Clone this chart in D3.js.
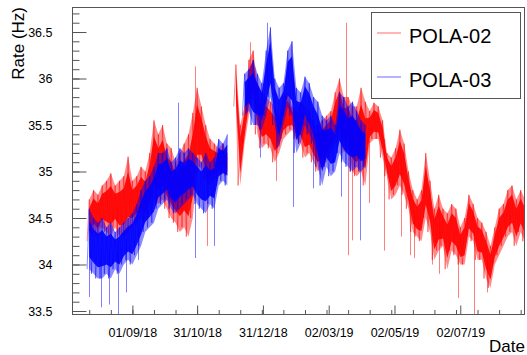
<!DOCTYPE html>
<html>
<head>
<meta charset="utf-8">
<script src="https://cdn.jsdelivr.net/npm/d3@7"></script>
<style>
  html, body { margin: 0; padding: 0; background: #fff; }
  svg { display: block; font-family: "Liberation Sans", Arial, Helvetica, sans-serif; }
</style>
</head>
<body>
<div id="chart"></div>
<script>
// one reading every 4 days from 21/07/18: low and high edge of the band in that window
var seriesStart = "2018-07-21";
var stepDays = 4;

var pola02Low = [34.25, 34.35, 34.3, 34.4, 34.35, 34.3, 34.4, 34.3, 34.3, 34.35,
  34.4, 34.45, 34.5, 34.45, 34.55, 34.7, 34.65, 34.7, 34.6, 34.5,
  34.45, 34.35, 34.4, 34.3, 34.5, 35.0, 35.05, 34.9, 34.85, 34.9,
  34.95, 35.0, 34.95, null, 35.7, 34.85, 35.3, 35.6, 35.8, 35.4,
  35.25, 35.3, 35.25, 35.1, 35.2, 35.35, 35.4, 35.45, 35.35, 35.3,
  35.15, 35.2, 35.1, 35.0, 35.05, 35.1, 35.2, 35.3, 35.35, 35.2,
  35.25, 35.0, 34.95, 35.0, 34.85, 35.3, 35.35, 35.35, 35.15, 34.95,
  34.7, 34.75, 34.85, 34.75, 34.6, 34.35, 34.3, 34.25, 34.5, 34.35,
  34.05, 34.15, 34.2, 33.95, 34.15, 34.1, 34.0, 34.0, 34.3, 34.25,
  34.05, 34.05, 33.85, 33.75, 34.0, 34.1, 34.2, 34.3, 34.35, 34.2,
  34.35, 34.25];
var pola02High = [34.7, 34.8, 34.75, 34.85, 34.9, 34.98, 34.85, 34.9, 34.95, 35.16,
  34.9, 34.95, 35.05, 35.0, 35.2, 35.55, 35.4, 35.5, 35.3, 35.25,
  35.1, 35.2, 35.3, 35.4, 35.63, 35.9, 35.7, 35.5, 35.35, 35.3,
  35.25, 35.3, 35.2, null, 36.15, 35.5, 35.7, 36.2, 36.3, 35.95,
  35.85, 35.8, 35.75, 35.7, 35.6, 35.8, 35.85, 35.7, 35.65, 35.75,
  35.7, 35.65, 35.5, 35.5, 35.55, 35.6, 35.65, 35.85, 36.0, 35.8,
  35.8, 35.7, 35.7, 35.9, 35.75, 35.65, 35.74, 35.7, 35.55, 35.2,
  35.15, 35.25, 35.45, 35.3, 35.0, 34.8, 34.7, 34.8, 35.2, 34.9,
  34.6, 34.75, 34.6, 34.55, 34.65, 34.6, 34.4, 34.5, 34.75, 34.65,
  34.5, 34.45, 34.35, 34.2, 34.4, 34.6, 34.65, 34.8, 34.85, 34.7,
  34.8, 34.7];
// isolated excursions outside the band: [date, rate]
var pola02Spikes = [["2018-08-18", 34.0], ["2018-10-29", 36.13], ["2018-11-09", 34.2],
  ["2018-12-19", 36.39], ["2019-01-12", 34.9], ["2019-03-18", 36.6], ["2019-03-20", 34.1],
  ["2019-03-24", 34.26], ["2019-04-08", 34.66], ["2019-04-22", 34.15], ["2019-05-08", 34.3],
  ["2019-05-16", 34.1], ["2019-05-20", 34.07], ["2019-06-06", 34.0], ["2019-06-12", 33.9],
  ["2019-06-30", 33.64], ["2019-07-15", 33.4], ["2019-07-27", 33.7]];

var pola03Low = [33.95, 33.9, 33.85, 33.85, 33.9, 33.85, 33.95, 33.9, 34.0, 34.05,
  34.0, 34.1, 34.2, 34.35, 34.4, 34.45, 34.6, 34.65, 34.7, 34.6,
  34.55, 34.6, 34.65, 34.7, 34.75, 34.65, 34.6, 34.55, 34.65, 34.6,
  34.85, 34.9, 34.85, null, null, null, 35.6, 35.65, 35.5, 35.5,
  35.45, 35.6, 35.8, 35.5, 35.25, 35.5, 35.7, 35.6, 35.2, 35.3,
  35.5, 35.4, 35.3, 35.05, 34.85, 35.05, 34.95, 35.0, 35.2, 35.1,
  35.05, 35.0, 35.05, 35.0, 35.05];
var pola03High = [34.6, 34.5, 34.45, 34.5, 34.4, 34.45, 34.35, 34.4, 34.45, 34.5,
  34.55, 34.65, 34.8, 34.9, 34.95, 35.05, 35.2, 35.2, 35.25, 35.1,
  35.15, 35.25, 35.2, 35.25, 35.2, 35.15, 35.1, 35.2, 35.1, 35.15,
  35.35, 35.3, 35.4, null, null, null, 36.05, 36.1, 36.2, 36.05,
  35.95, 36.3, 36.55, 36.0, 35.9, 35.95, 36.3, 36.4, 35.9, 35.85,
  36.02, 35.95, 35.8, 35.75, 35.6, 35.55, 35.6, 35.5, 35.85, 35.8,
  35.7, 35.75, 35.65, 35.55, 35.5];
var pola03Spikes = [["2018-07-23", 33.65], ["2018-08-03", 33.54], ["2018-08-10", 33.57],
  ["2018-08-19", 33.4], ["2018-08-26", 33.7], ["2018-09-06", 34.05], ["2018-10-13", 35.74],
  ["2018-10-29", 34.07], ["2018-11-16", 34.2], ["2018-12-28", 35.15], ["2019-01-04", 36.6],
  ["2019-01-28", 34.62], ["2019-02-15", 34.82], ["2019-03-13", 34.73], ["2019-03-31", 34.26]];

var seriesNames = ["POLA-02", "POLA-03"];
var seriesColors = ["#ff0000", "#0000ff"];
var legendColors = ["#ff9c9c", "#9c9cff"];

var majorTickDates = ["2018-09-01", "2018-10-31", "2018-12-31", "2019-03-02", "2019-05-02", "2019-07-02"];
var majorTickLabels = ["01/09/18", "31/10/18", "31/12/18", "02/03/19", "02/05/19", "02/07/19"];
var yTicks = [33.5, 34, 34.5, 35, 35.5, 36, 36.5];

var width = 527, height = 355;
var margin = { left: 72, right: 2, top: 7, bottom: 40 };

var parse = d3.utcParse("%Y-%m-%d");
var start = parse(seriesStart);

var x = d3.scaleUtc()
    .domain([parse("2018-07-07"), parse("2019-08-31")])
    .range([margin.left, width - margin.right]);

var y = d3.scaleLinear()
    .domain([33.457, 36.769])
    .range([height - margin.bottom, margin.top]);

var svg = d3.select("#chart").append("svg")
    .attr("width", width)
    .attr("height", height);

svg.append("defs").append("clipPath")
    .attr("id", "plot-clip")
    .append("rect")
    .attr("x", margin.left)
    .attr("y", margin.top)
    .attr("width", width - margin.left - margin.right)
    .attr("height", height - margin.top - margin.bottom);

function bandRows(lo, hi) {
    return lo.map(function(v, i) {
        return { t: d3.utcDay.offset(start, i * stepDays + stepDays / 2), lo: v, hi: hi[i] };
    });
}

// zigzag low -> high -> low for the scatter texture
function zigzag(lo, hi) {
    return lo.flatMap(function(v, i) {
        return [
            { t: d3.utcDay.offset(start, i * stepDays), v: v },
            { t: d3.utcDay.offset(start, i * stepDays + stepDays / 2), v: hi[i] }
        ];
    });
}

var outerArea = d3.area()
    .defined(function(d) { return d.lo != null; })
    .x(function(d) { return x(d.t); })
    .y0(function(d) { return y(d.lo); })
    .y1(function(d) { return y(d.hi); });

var coreArea = d3.area()
    .defined(function(d) { return d.lo != null; })
    .x(function(d) { return x(d.t); })
    .y0(function(d) { return y(d.lo + 0.2 * (d.hi - d.lo)); })
    .y1(function(d) { return y(d.hi - 0.2 * (d.hi - d.lo)); });

var line = d3.line()
    .defined(function(d) { return d.v != null; })
    .x(function(d) { return x(d.t); })
    .y(function(d) { return y(d.v); });

var series = [
    { lo: pola02Low, hi: pola02High, spikes: pola02Spikes },
    { lo: pola03Low, hi: pola03High, spikes: pola03Spikes }
];

var plot = svg.append("g").attr("clip-path", "url(#plot-clip)");

series.forEach(function(s, k) {
    var rows = bandRows(s.lo, s.hi);
    var g = plot.append("g");

    g.selectAll(".spike")
        .data(s.spikes)
        .enter()
        .append("line")
        .attr("class", "spike")
        .attr("x1", function(d) { return Math.round(x(parse(d[0]))) + 0.5; })
        .attr("x2", function(d) { return Math.round(x(parse(d[0]))) + 0.5; })
        .attr("y1", function(d) {
            var i = Math.min(rows.length - 1, Math.max(0, Math.floor((parse(d[0]) - start) / 864e5 / stepDays)));
            var r = rows[i].lo != null ? rows[i] : rows[i - 1];
            return y((r.lo + r.hi) / 2);
        })
        .attr("y2", function(d) { return y(d[1]); })
        .attr("stroke", seriesColors[k])
        .attr("stroke-opacity", 0.5)
        .attr("stroke-width", 1);

    g.append("path")
        .datum(rows)
        .attr("fill", seriesColors[k])
        .attr("fill-opacity", 0.45)
        .attr("d", outerArea);

    g.append("path")
        .datum(rows)
        .attr("fill", seriesColors[k])
        .attr("fill-opacity", 0.9)
        .attr("d", coreArea);

    g.append("path")
        .datum(zigzag(s.lo, s.hi))
        .attr("fill", "none")
        .attr("stroke", seriesColors[k])
        .attr("stroke-opacity", 0.5)
        .attr("stroke-width", 0.9)
        .attr("d", line);
});

// frame
svg.append("rect")
    .attr("x", margin.left + 0.5)
    .attr("y", margin.top + 0.5)
    .attr("width", width - margin.left - margin.right - 1)
    .attr("height", height - margin.top - margin.bottom - 1)
    .attr("fill", "none")
    .attr("stroke", "#555");

// y axis
var yAxis = d3.axisLeft(y)
    .tickValues(yTicks)
    .tickSize(-14)
    .tickPadding(20)
    .tickFormat(d3.format("~g"));

var yMinor = d3.axisLeft(y)
    .tickValues(d3.range(33.5, 36.75, 0.1))
    .tickSize(-7)
    .tickFormat("");

[yMinor, yAxis].forEach(function(ax) {
    var g = svg.append("g")
        .attr("transform", "translate(" + (margin.left + 0.5) + ",0)")
        .call(ax);
    g.select(".domain").remove();
    g.selectAll("line").attr("stroke", "#555");
    g.selectAll("text")
        .attr("font-size", 12.5)
        .attr("fill", "#000")
        .attr("font-family", "Liberation Sans, Arial, sans-serif");
});

// x axis
var majors = majorTickDates.map(parse);
var minors = [];
var mStep = (majors[1] - majors[0]) / 3;
for (var t = +majors[0] - 2 * mStep; t < +x.domain()[1]; t += mStep) minors.push(new Date(t));

var xMinor = d3.axisBottom(x).tickValues(minors).tickSize(-4.5).tickFormat("");
var xAxis = d3.axisBottom(x)
    .tickValues(majors)
    .tickSize(-9)
    .tickPadding(14)
    .tickFormat(function(d, i) { return majorTickLabels[i]; });

[xMinor, xAxis].forEach(function(ax) {
    var g = svg.append("g")
        .attr("transform", "translate(0," + (height - margin.bottom - 0.5) + ")")
        .call(ax);
    g.select(".domain").remove();
    g.selectAll("line").attr("stroke", "#555");
    g.selectAll("text")
        .attr("font-size", 12.5)
        .attr("fill", "#000")
        .attr("font-family", "Liberation Sans, Arial, sans-serif");
});

// axis titles
svg.append("text")
    .attr("transform", "translate(24," + margin.top + ") rotate(-90)")
    .attr("text-anchor", "end")
    .attr("font-size", 17)
    .text("Rate (Hz)");

svg.append("text")
    .attr("x", width - 2)
    .attr("y", 352)
    .attr("text-anchor", "end")
    .attr("font-size", 17)
    .text("Date");

// legend
var legend = svg.append("g");
legend.append("rect")
    .attr("x", 371.5).attr("y", 12.5)
    .attr("width", 149).attr("height", 86)
    .attr("fill", "#fff")
    .attr("stroke", "#555");

seriesNames.forEach(function(name, k) {
    var ly = 33 + k * 44;
    legend.append("line")
        .attr("x1", 377).attr("x2", 401)
        .attr("y1", ly).attr("y2", ly)
        .attr("stroke", legendColors[k])
        .attr("stroke-width", 1.5);
    legend.append("text")
        .attr("x", 409)
        .attr("y", ly + 10)
        .attr("font-size", 20)
        .text(name);
});
</script>
</body>
</html>
